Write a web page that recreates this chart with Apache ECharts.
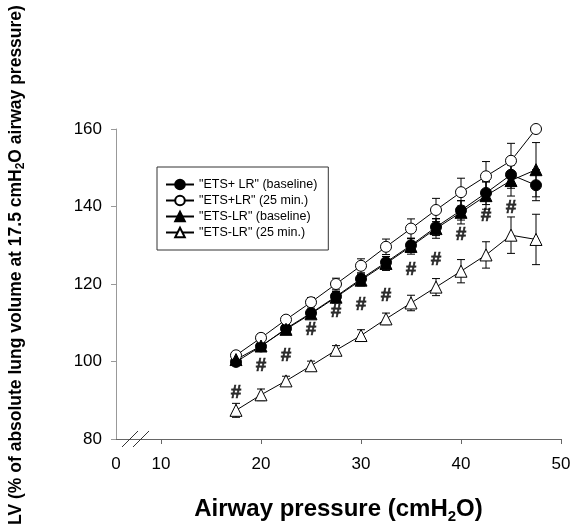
<!DOCTYPE html>
<html>
<head>
<meta charset="utf-8">
<script src="https://cdn.jsdelivr.net/npm/echarts@6/dist/echarts.min.js"></script>
<style>
html,body{margin:0;padding:0;background:#fff;}
#chart{width:574px;height:529px;}
</style>
</head>
<body>
<div id="chart"></div>
<script>
// ---- data ----
var pressures = [17.5, 20, 22.5, 25, 27.5, 30, 32.5, 35, 37.5, 40, 42.5, 45, 47.5];
var etsPlusBase = [99.9, 103.9, 108.5, 112.5, 116.8, 121.3, 125.6, 130, 134.7, 139, 143.5, 148.2, 145.5];
var etsPlusBaseErr = [1, 1, 1, 1, 1.2, 1.3, 1.5, 1.8, 2.2, 2.5, 3, 3.5, 4];
var etsPlus25 = [101.6, 106.1, 110.8, 115.3, 120, 124.7, 129.6, 134.3, 139.1, 143.7, 147.8, 151.8, 160];
var etsPlus25Err = [0.8, 1, 1, 1.2, 1.5, 1.8, 2, 2.5, 3, 3.6, 3.8, 4.5, 0.5];
var etsMinusBase = [100.5, 104, 108.3, 112.3, 116.6, 121, 125.3, 129.7, 134.3, 138.5, 142.8, 146.7, 149.5];
var etsMinusBaseErr = [1, 1, 1, 1.2, 1.5, 1.5, 1.8, 2, 2.5, 3, 3.5, 4, 7];
var etsMinus25 = [87.4, 91.4, 95, 98.9, 102.9, 106.7, 111, 115.1, 119.2, 123.3, 127.5, 132.6, 131.5];
var etsMinus25Err = [1.8, 1.5, 1.2, 1.2, 1.2, 1.5, 1.5, 2, 2.2, 3, 3.4, 4.7, 6.5];
var hashX = [17.5, 20, 22.5, 25, 27.5, 30, 32.5, 35, 37.5, 40, 42.5, 45];
var hashY = [92, 99, 101.6, 108.2, 112.8, 114.7, 117, 123.8, 126.2, 132.8, 137.5, 139.7];
var xTickValues = [10, 20, 30, 40, 50];
var xAxisStart = 5.5;          // left end of the broken axis, labelled "0"
var xLabelValues = [xAxisStart].concat(xTickValues);
var breakMarkX = [6.9, 8.0];
var seriesNames = ['"ETS+ LR" (baseline)', '"ETS+LR" (25 min.)', '"ETS-LR" (baseline)', '"ETS-LR" (25 min.)'];

var FONT = '"Liberation Sans", Arial, Helvetica, sans-serif';

function pairs(xs, ys) { return xs.map(function (x, i) { return [x, ys[i]]; }); }
function triples(xs, ys, es) { return xs.map(function (x, i) { return [x, ys[i], es[i]]; }); }

function errorSeries(ys, es) {
  return {
    type: 'custom',
    silent: true,
    z: 1,
    data: triples(pressures, ys, es),
    renderItem: function (params, api) {
      var x = api.value(0), y = api.value(1), e = api.value(2);
      var top = api.coord([x, y + e]);
      var bot = api.coord([x, y - e]);
      var cap = 4;
      var st = { stroke: '#000', lineWidth: 1 };
      return {
        type: 'group',
        children: [
          { type: 'line', shape: { x1: top[0], y1: top[1], x2: bot[0], y2: bot[1] }, style: st },
          { type: 'line', shape: { x1: top[0] - cap, y1: top[1], x2: top[0] + cap, y2: top[1] }, style: st },
          { type: 'line', shape: { x1: bot[0] - cap, y1: bot[1], x2: bot[0] + cap, y2: bot[1] }, style: st }
        ]
      };
    }
  };
}

function lineSeries(name, ys, symbol, filled, size) {
  return {
    name: name,
    type: 'line',
    z: 3,
    data: pairs(pressures, ys),
    symbol: symbol,
    symbolSize: size,
    showAllSymbol: true,
    lineStyle: { color: '#000', width: 1 },
    itemStyle: { color: filled ? '#000' : '#fff', borderColor: '#000', borderWidth: 1 },
    emphasis: { disabled: true },
    animation: false
  };
}

var chart = echarts.init(document.getElementById('chart'), null, { renderer: 'canvas' });

var option = {
  animation: false,
  backgroundColor: '#fff',
  grid: { left: 116, right: 13, top: 129, bottom: 88, containLabel: false },
  legend: {
    orient: 'vertical',
    left: 157,
    top: 167,
    padding: [11, 11, 11, 8],
    itemGap: 3,
    itemWidth: 28,
    itemHeight: 12,
    borderColor: '#333',
    borderWidth: 1,
    selectedMode: false,
    data: seriesNames,
    textStyle: { fontFamily: FONT, fontSize: 12.5, color: '#000' }
  },
  xAxis: {
    type: 'value',
    min: xAxisStart,
    max: 50,
    splitLine: { show: false },
    axisLine: { lineStyle: { color: '#666', width: 1 } },
    axisTick: { show: true, customValues: xTickValues, length: 5, lineStyle: { color: '#666' } },
    axisLabel: {
      customValues: xLabelValues,
      margin: 17,
      fontFamily: FONT, fontSize: 17, color: '#000',
      formatter: function (v) { return v === xAxisStart ? '0' : String(v); }
    },
    name: '{t|Airway pressure (cmH}{s|2}{t|O)}',
    nameLocation: 'middle',
    nameGap: 56,
    nameTextStyle: {
      rich: {
        t: { fontFamily: FONT, fontSize: 24, fontWeight: 'bold', color: '#000' },
        s: { fontFamily: FONT, fontSize: 15, fontWeight: 'bold', color: '#000', verticalAlign: 'bottom', padding: [14, 0, 0, 0] }
      }
    }
  },
  yAxis: {
    type: 'value',
    min: 80,
    max: 160,
    interval: 20,
    splitLine: { show: false },
    axisLine: { show: true, lineStyle: { color: '#999', width: 1 } },
    axisTick: { show: true, length: 5, lineStyle: { color: '#999' } },
    axisLabel: { margin: 14, fontFamily: FONT, fontSize: 17, color: '#000' }
  },
  series: [
    errorSeries(etsPlusBase, etsPlusBaseErr),
    errorSeries(etsPlus25, etsPlus25Err),
    errorSeries(etsMinusBase, etsMinusBaseErr),
    errorSeries(etsMinus25, etsMinus25Err),
    lineSeries(seriesNames[0], etsPlusBase, 'circle', true, 11),
    lineSeries(seriesNames[1], etsPlus25, 'circle', false, 11),
    lineSeries(seriesNames[2], etsMinusBase, 'triangle', true, 12),
    lineSeries(seriesNames[3], etsMinus25, 'triangle', false, 12),
    {
      type: 'scatter',
      silent: true,
      z: 4,
      data: pairs(hashX, hashY),
      symbolSize: 1,
      itemStyle: { color: 'rgba(0,0,0,0)' },
      label: {
        show: true,
        position: 'inside',
        formatter: '#',
        fontFamily: FONT,
        fontSize: 19,
        fontWeight: 'bold',
        color: '#000',
        textBorderColor: '#000',
        textBorderWidth: 0.6
      }
    }
  ]
};

chart.setOption(option);

// break marks on the x axis and rotated y-axis title
var graphics = breakMarkX.map(function (bx) {
  var p = chart.convertToPixel({ gridIndex: 0 }, [bx, 80]);
  return {
    type: 'line',
    shape: { x1: p[0] - 8, y1: p[1] + 8, x2: p[0] + 8, y2: p[1] - 8 },
    style: { stroke: '#333', lineWidth: 1 },
    z: 10
  };
});
graphics.push({
  type: 'text',
  x: 16,
  y: 265,
  rotation: Math.PI / 2,
  style: {
    text: '{t|LV (% of absolute lung volume at 17.5 cmH}{s|2}{t|O airway pressure)}',
    align: 'center',
    verticalAlign: 'middle',
    rich: {
      t: { fontFamily: FONT, fontSize: 17.5, fontWeight: 'bold', fill: '#000' },
      s: { fontFamily: FONT, fontSize: 12, fontWeight: 'bold', fill: '#000', padding: [10, 0, 0, 0] }
    }
  },
  z: 10
});
chart.setOption({ graphic: graphics });
</script>
</body>
</html>
